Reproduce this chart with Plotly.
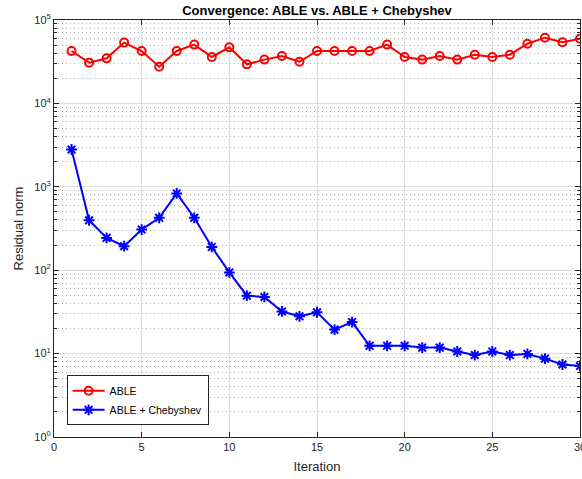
import plotly.graph_objects as go

iterations = list(range(1, 31))
able = [42500, 30800, 34700, 53600, 42500, 27600, 42500, 50700, 36000, 47000,
        29400, 33500, 37000, 31600, 42500, 42500, 42500, 42500, 50700, 36000,
        33500, 37000, 33500, 38400, 36000, 38400, 52000, 61400, 54000, 59700]
able_cheb = [2800, 397, 244, 194, 307, 425, 832, 425, 190, 94,
             49.5, 47.8, 32, 28, 31.3, 19.4, 23.9, 12.4, 12.4, 12.4,
             11.8, 11.8, 10.6, 9.6, 10.6, 9.6, 9.9, 8.7, 7.4, 7.1]
y_tickvals = [1, 10, 100, 1000, 10000, 100000]
y_ticktext = ["10<sup>0</sup>", "10<sup>1</sup>", "10<sup>2</sup>",
              "10<sup>3</sup>", "10<sup>4</sup>", "10<sup>5</sup>"]
y_minor_mult = [2, 3, 4, 5, 6, 7, 8, 9]
x_tickvals = [0, 5, 10, 15, 20, 25, 30]

y_minor_vals = [m * d for d in y_tickvals[:-1] for m in y_minor_mult]

FONT = "Liberation Sans, Arial, sans-serif"

fig = go.Figure()
fig.add_trace(go.Scatter(
    x=iterations, y=able, mode="lines+markers", name="ABLE",
    line=dict(color="#ff0000", width=2),
    marker=dict(symbol="circle-open", size=8, color="#ff0000",
                line=dict(width=2, color="#ff0000")),
))
fig.add_trace(go.Scatter(
    x=iterations, y=able_cheb, mode="lines+markers", name="ABLE + Chebyshev",
    line=dict(color="#0000ff", width=2),
    marker=dict(symbol="asterisk-open", size=9, color="#0000ff",
                line=dict(width=2, color="#0000ff")),
))

fig.update_layout(
    width=582, height=479,
    margin=dict(l=54, r=2, t=20, b=42, autoexpand=False),
    paper_bgcolor="white", plot_bgcolor="white",
    font=dict(family=FONT, size=11, color="#262626"),
    title=dict(text="<b>Convergence: ABLE vs. ABLE + Chebyshev</b>",
               x=(54 + 580) / 2 / 582, xanchor="center", y=1 - 10 / 479, yanchor="middle",
               font=dict(family=FONT, size=13, color="black")),
    showlegend=True,
    legend=dict(x=0.024, y=0.028, xanchor="left", yanchor="bottom",
                bgcolor="white", bordercolor="#262626", borderwidth=1,
                font=dict(family=FONT, size=10.5, color="black"),
                tracegroupgap=0, itemwidth=32),
)
fig.update_xaxes(
    range=[0, 30], tickvals=x_tickvals, ticktext=[str(v) for v in x_tickvals],
    automargin=False, ticklabeloverflow="allow",
    showline=True, linecolor="#262626", linewidth=1, mirror="allticks",
    ticks="inside", ticklen=5, tickcolor="#262626",
    showgrid=True, gridcolor="#dcdcdc", gridwidth=1, zeroline=False,
    title=dict(text="Iteration", standoff=9, font=dict(size=13)),
)
fig.update_yaxes(
    type="log", range=[0, 5], tickvals=y_tickvals, ticktext=y_ticktext,
    automargin=False,
    showline=True, linecolor="#262626", linewidth=1, mirror="allticks",
    ticks="inside", ticklen=5, tickcolor="#262626",
    showgrid=True, gridcolor="#dcdcdc", gridwidth=1, zeroline=False,
    minor=dict(tickmode="array", tickvals=y_minor_vals,
               ticks="inside", ticklen=3, tickcolor="#262626",
               showgrid=True, gridcolor="#b4b4b4", griddash="1px,3px", gridwidth=1),
    title=dict(text="Residual norm", standoff=7, font=dict(size=13)),
)

fig.write_html("out.html", config={"displayModeBar": False},
               post_script="document.body.style.margin='0';document.body.style.overflow='hidden';")
